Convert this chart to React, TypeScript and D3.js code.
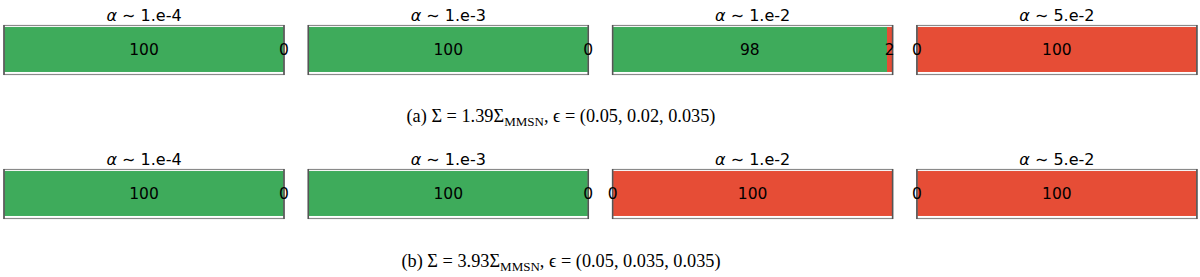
import { useEffect, useRef } from 'react'
import * as d3 from 'd3'

const alphas = ['1.e-4', '1.e-3', '1.e-2', '5.e-2']
const greenA = [100, 100, 98, 0]
const redA = [0, 0, 2, 100]
const greenB = [100, 100, 0, 0]
const redB = [0, 0, 100, 100]
const captionA = { tag: '(a)', sigma: '1.39', eps: '(0.05, 0.02, 0.035)' }
const captionB = { tag: '(b)', sigma: '3.93', eps: '(0.05, 0.035, 0.035)' }

const GREEN = '#3eab5b'
const RED = '#e64d36'

export default function App() {
  const svgRef = useRef<SVGSVGElement>(null)

  useEffect(() => {
    if (!svgRef.current) return
    const svg = d3.select(svgRef.current)
    svg.selectAll('*').remove()

    const panelW = 280
    const step = 304.3
    const x0 = 4

    const rows = [
      { green: greenA, red: redA, top: 25, caption: captionA, capY: 122 },
      { green: greenB, red: redB, top: 169, caption: captionB, capY: 267 },
    ]

    rows.forEach(row => {
      alphas.forEach((a, i) => {
        const left = x0 + i * step
        const x = d3.scaleLinear().domain([0, 100]).range([left, left + panelW])
        const y = d3.scaleBand().domain(['bar']).range([row.top, row.top + 49]).paddingInner(0).paddingOuter(0.045)
        const g = svg.append('g')

        const segs = [
          { start: 0, value: row.green[i], color: GREEN },
          { start: row.green[i], value: row.red[i], color: RED },
        ]

        g.selectAll('rect.seg')
          .data(segs)
          .join('rect')
          .attr('class', 'seg')
          .attr('x', d => x(d.start))
          .attr('y', y('bar')!)
          .attr('width', d => x(d.start + d.value) - x(d.start))
          .attr('height', y.bandwidth())
          .attr('fill', d => d.color)

        // frame
        g.append('rect')
          .attr('x', left)
          .attr('y', row.top + 0.5)
          .attr('width', panelW)
          .attr('height', 49)
          .attr('fill', 'none')
          .attr('stroke', '#8a8a8a')
          .attr('stroke-width', 1.2)
        g.append('line')
          .attr('x1', left).attr('x2', left)
          .attr('y1', row.top).attr('y2', row.top + 50)
          .attr('stroke', '#555').attr('stroke-width', 1.5)
        g.append('line')
          .attr('x1', left + panelW).attr('x2', left + panelW)
          .attr('y1', row.top).attr('y2', row.top + 50)
          .attr('stroke', '#555').attr('stroke-width', 1.5)

        g.selectAll('text.lbl')
          .data(segs)
          .join('text')
          .attr('class', 'lbl')
          .attr('x', d => x(d.start + d.value / 2))
          .attr('y', y('bar')! + y.bandwidth() / 2)
          .attr('text-anchor', 'middle')
          .attr('dominant-baseline', 'central')
          .attr('font-family', 'DejaVu Sans')
          .attr('font-size', 15.5)
          .attr('fill', '#000')
          .text(d => String(d.value))

        const t = g.append('text')
          .attr('x', left + panelW / 2)
          .attr('y', row.top - 4)
          .attr('text-anchor', 'middle')
          .attr('font-family', 'DejaVu Sans')
          .attr('font-size', 16)
          .attr('fill', '#000')
        t.append('tspan').attr('font-style', 'italic').text('α')
        t.append('tspan').text(' ∼ ' + a)
      })

      const c = svg.append('text')
        .attr('x', 561)
        .attr('y', row.capY)
        .attr('text-anchor', 'middle')
        .attr('font-family', 'Liberation Serif')
        .attr('font-size', 18.3)
        .attr('fill', '#000')
      c.append('tspan').text(`${row.caption.tag} Σ = ${row.caption.sigma}Σ`)
      c.append('tspan').attr('font-size', 13).attr('dy', 3.5).text('MMSN')
      c.append('tspan').attr('dy', -3.5).text(`, ϵ = ${row.caption.eps}`)
    })
  }, [])

  return (
    <svg
      ref={svgRef}
      width={1200}
      height={277}
      style={{ display: 'block', position: 'absolute', left: 0, top: 0, background: '#fff' }}
    />
  )
}
